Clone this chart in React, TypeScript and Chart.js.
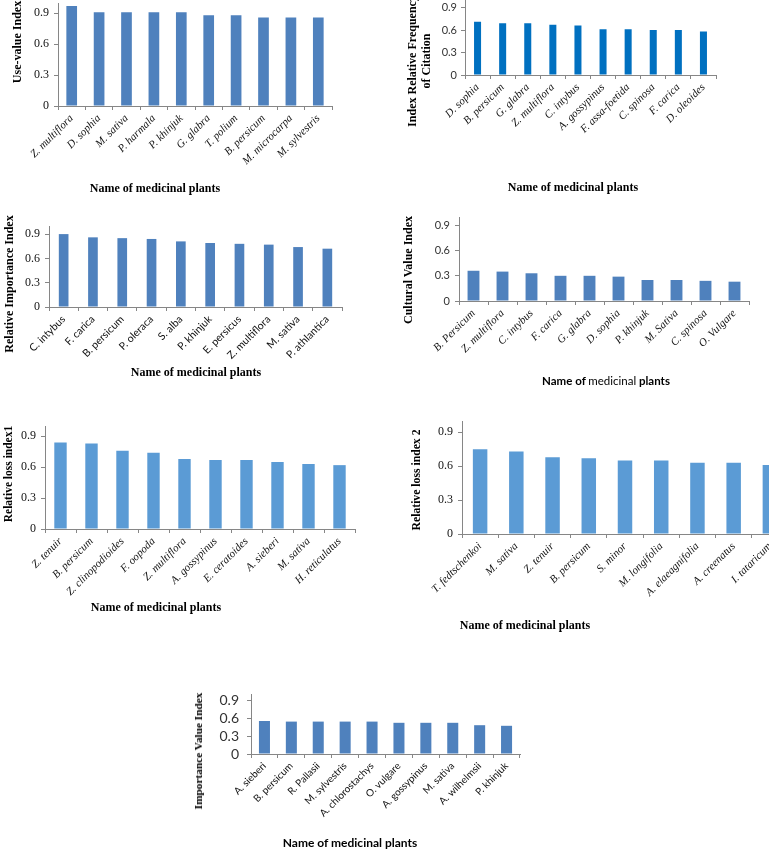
import React, { useEffect, useRef } from "react";
import { Chart, registerables } from "chart.js";

Chart.register(...registerables);

const SERIF = '"Liberation Serif", "Times New Roman", serif';
const SANS = 'Lato, "Liberation Sans", sans-serif';
const AXIS = "#868686";

// ---- data ----
const yTicks = [0, 0.3, 0.6, 0.9];

const useValueLabels = ["Z. multiflora", "D. sophia", "M. sativa", "P. harmala", "P. khinjuk", "G. glabra", "T. polium", "B. persicum", "M. microcarpa", "M. sylvestris"];
const useValueValues = [0.97, 0.91, 0.91, 0.91, 0.91, 0.88, 0.88, 0.86, 0.86, 0.86];

const rfcLabels = ["D. sophia", "B. persicum", "G. glabra", "Z. multiflora", "C. intybus", "A. gossypinus", "F. assa-foetida", "C. spinosa", "F. carica", "D. oleoides"];
const rfcValues = [0.71, 0.69, 0.69, 0.67, 0.66, 0.61, 0.61, 0.6, 0.6, 0.58];

const riLabels = ["C. intybus", "F. carica", "B. persicum", "P. oleraca", "S. alba", "P. khinjuk", "E. persicus", "Z. multiflora", "M. sativa", "P. athlantica"];
const riValues = [0.9, 0.86, 0.85, 0.84, 0.81, 0.79, 0.78, 0.77, 0.74, 0.72];

const cvLabels = ["B. Persicum", "Z. multiflora", "C. intybus", "F. carica", "G. glabra", "D. sophia", "P. khinjuk", "M. Sativa", "C. spinosa", "O. Vulgare"];
const cvValues = [0.36, 0.35, 0.33, 0.3, 0.3, 0.29, 0.25, 0.25, 0.24, 0.23];

const rl1Labels = ["Z. tenuir", "B. persicum", "Z. clinopodioides", "F. oopoda", "Z. multiflora", "A. gossypinus", "E. ceratoides", "A. sieberi", "M. sativa", "H. reticulatus"];
const rl1Values = [0.84, 0.83, 0.76, 0.74, 0.68, 0.67, 0.67, 0.65, 0.63, 0.62];

const rl2Labels = ["T. fedtschenkoi", "M. sativa", "Z. tenuir", "B. persicum", "S. minor", "M. longifolia", "A. elaeagnifolia", "A. creenatus", "I. tataricum"];
const rl2Values = [0.75, 0.73, 0.68, 0.67, 0.65, 0.65, 0.63, 0.63, 0.61];

const iviLabels = ["A. sieberi", "B. persicum", "R. Pallasii", "M. sylvestris", "A. chlorostachys", "O. vulgare", "A. gossypinus", "M. sativa", "A. wilhelmsii", "P. khinjuk"];
const iviValues = [0.55, 0.54, 0.54, 0.54, 0.54, 0.52, 0.52, 0.52, 0.48, 0.47];

type FontCfg = { family: string; size: number; style?: "italic" | "normal" };

type PanelCfg = {
  labels: string[];
  values: number[];
  color: string;
  barPct: number;
  x0: number;
  x1: number;
  yTop: number;
  yBot: number;
  tickFont: FontCfg;
  labelFont: FontCfg;
  tickPad: number;
  tickColor: string;
};

const LM = 70;
const RM = 6;
const TM = 12;
const BM = 90;

function BarPanel({ cfg }: { cfg: PanelCfg }) {
  const ref = useRef<HTMLCanvasElement>(null);
  const left = cfg.x0 - LM;
  const top = cfg.yTop - TM;
  const width = Math.round(cfg.x1 - cfg.x0 + LM + RM);
  const height = Math.round(cfg.yBot - cfg.yTop + TM + BM);

  useEffect(() => {
    const chart = new Chart(ref.current as HTMLCanvasElement, {
      type: "bar",
      data: {
        labels: cfg.labels,
        datasets: [
          {
            data: cfg.values,
            backgroundColor: cfg.color,
            borderWidth: 0,
            barPercentage: cfg.barPct,
            categoryPercentage: 1,
          },
        ],
      },
      options: {
        responsive: false,
        animation: false,
        devicePixelRatio: 1,
        layout: { padding: { top: TM, right: RM, left: 0, bottom: 0 } },
        plugins: { legend: { display: false }, tooltip: { enabled: false } },
        scales: {
          x: {
            grid: { display: true, drawOnChartArea: false, drawTicks: true, tickLength: 4, color: AXIS, offset: true },
            border: { display: true, color: AXIS, width: 1 },
            ticks: {
              autoSkip: false,
              minRotation: 45,
              maxRotation: 45,
              color: "#111",
              padding: 2,
              font: { family: cfg.labelFont.family, size: cfg.labelFont.size, style: cfg.labelFont.style || "normal" },
            },
            afterFit: (s: any) => {
              s.height = BM;
              s.paddingLeft = 0;
              s.paddingRight = 0;
            },
          },
          y: {
            min: 0,
            max: 1,
            grid: { display: true, drawOnChartArea: false, drawTicks: true, tickLength: 4, color: AXIS },
            border: { display: true, color: AXIS, width: 1 },
            ticks: {
              color: cfg.tickColor,
              padding: cfg.tickPad,
              font: { family: cfg.tickFont.family, size: cfg.tickFont.size },
              callback: (v: any) => String(v),
            },
            afterBuildTicks: (s: any) => {
              s.ticks = yTicks.map((v) => ({ value: v }));
            },
            afterFit: (s: any) => {
              s.width = LM;
              s.paddingTop = 0;
              s.paddingBottom = 0;
            },
          },
        },
      } as any,
    });
    return () => chart.destroy();
  }, []);

  return (
    <canvas
      ref={ref}
      width={width}
      height={height}
      style={{ position: "absolute", left, top, width, height }}
    />
  );
}

function VTitle({ lines, cx, cy, size = 12, lh = 14 }: { lines: string[]; cx: number; cy: number; size?: number; lh?: number }) {
  return (
    <div
      style={{
        position: "absolute",
        left: cx,
        top: cy,
        transform: "translate(-50%, -50%) rotate(-90deg)",
        whiteSpace: "nowrap",
        fontFamily: SERIF,
        fontWeight: "bold",
        fontSize: size,
        lineHeight: lh + "px",
        textAlign: "center",
        color: "#000",
      }}
    >
      {lines.map((l, i) => (
        <div key={i}>{l}</div>
      ))}
    </div>
  );
}

function HTitle({ cx, cy, family, size, children }: { cx: number; cy: number; family: string; size: number; children: React.ReactNode }) {
  return (
    <div
      style={{
        position: "absolute",
        left: cx,
        top: cy,
        transform: "translate(-50%, -50%)",
        whiteSpace: "nowrap",
        fontFamily: family,
        fontWeight: "bold",
        fontSize: size,
        color: "#000",
      }}
    >
      {children}
    </div>
  );
}

const XTITLE = "Name of medicinal plants";

const serifTick: FontCfg = { family: SERIF, size: 12 };
const sansTick: FontCfg = { family: SANS, size: 11 };
const italicLabel: FontCfg = { family: SERIF, size: 11, style: "italic" };
const sansLabel: FontCfg = { family: SANS, size: 10.5 };

const panels: PanelCfg[] = [
  { labels: useValueLabels, values: useValueValues, color: "#4F81BD", barPct: 0.39, x0: 58, x1: 332, yTop: 2.7, yBot: 106, tickFont: serifTick, labelFont: italicLabel, tickPad: 5, tickColor: "#111" },
  { labels: rfcLabels, values: rfcValues, color: "#0070C0", barPct: 0.28, x0: 465, x1: 716, yTop: 0, yBot: 75, tickFont: sansTick, labelFont: italicLabel, tickPad: 4, tickColor: "#333" },
  { labels: riLabels, values: riValues, color: "#4F81BD", barPct: 0.33, x0: 49, x1: 342, yTop: 225.6, yBot: 307, tickFont: serifTick, labelFont: sansLabel, tickPad: 5, tickColor: "#111" },
  { labels: cvLabels, values: cvValues, color: "#4F81BD", barPct: 0.41, x0: 459, x1: 749, yTop: 216.6, yBot: 300.7, tickFont: sansTick, labelFont: italicLabel, tickPad: 5, tickColor: "#333" },
  { labels: rl1Labels, values: rl1Values, color: "#5B9BD5", barPct: 0.4, x0: 45, x1: 355, yTop: 425.7, yBot: 528.3, tickFont: serifTick, labelFont: italicLabel, tickPad: 5, tickColor: "#111" },
  { labels: rl2Labels, values: rl2Values, color: "#5B9BD5", barPct: 0.4, x0: 462, x1: 788, yTop: 421.4, yBot: 534.3, tickFont: serifTick, labelFont: italicLabel, tickPad: 5, tickColor: "#111" },
  { labels: iviLabels, values: iviValues, color: "#4F81BD", barPct: 0.41, x0: 251, x1: 520, yTop: 694, yBot: 754.3, tickFont: { family: SANS, size: 14 }, labelFont: { family: SANS, size: 10 }, tickPad: 8, tickColor: "#333" },
];

export default function App() {
  return (
    <div
      style={{
        position: "fixed",
        left: 0,
        top: 0,
        width: 769,
        height: 851,
        overflow: "hidden",
        background: "#fff",
      }}
    >
      {panels.map((p, i) => (
        <BarPanel key={i} cfg={p} />
      ))}

      <VTitle lines={["Use-value Index"]} cx={16.5} cy={42} />
      <VTitle lines={["Index Relative Frequency", "of Citation"]} cx={418.7} cy={61} />
      <VTitle lines={["Relative Importance Index"]} cx={9} cy={283.5} />
      <VTitle lines={["Cultural Value Index"]} cx={408} cy={270} />
      <VTitle lines={["Relative loss index1"]} cx={8} cy={474} size={11.5} />
      <VTitle lines={["Relative loss index 2"]} cx={417.3} cy={480} size={11.7} />
      <VTitle lines={["Importance Value Index"]} cx={198} cy={750.5} size={11.3} />

      <HTitle cx={155} cy={188} family={SERIF} size={12}>{XTITLE}</HTitle>
      <HTitle cx={573} cy={187} family={SERIF} size={12}>{XTITLE}</HTitle>
      <HTitle cx={196} cy={372} family={SERIF} size={12}>{XTITLE}</HTitle>
      <HTitle cx={606} cy={380} family={SANS} size={11.5}>
        <span>Name of </span>
        <span style={{ fontWeight: "normal" }}>medicinal</span>
        <span> plants</span>
      </HTitle>
      <HTitle cx={156} cy={607} family={SERIF} size={12}>{XTITLE}</HTitle>
      <HTitle cx={525} cy={625} family={SERIF} size={12}>{XTITLE}</HTitle>
      <HTitle cx={350} cy={842} family={SANS} size={12}>{XTITLE}</HTitle>
    </div>
  );
}
